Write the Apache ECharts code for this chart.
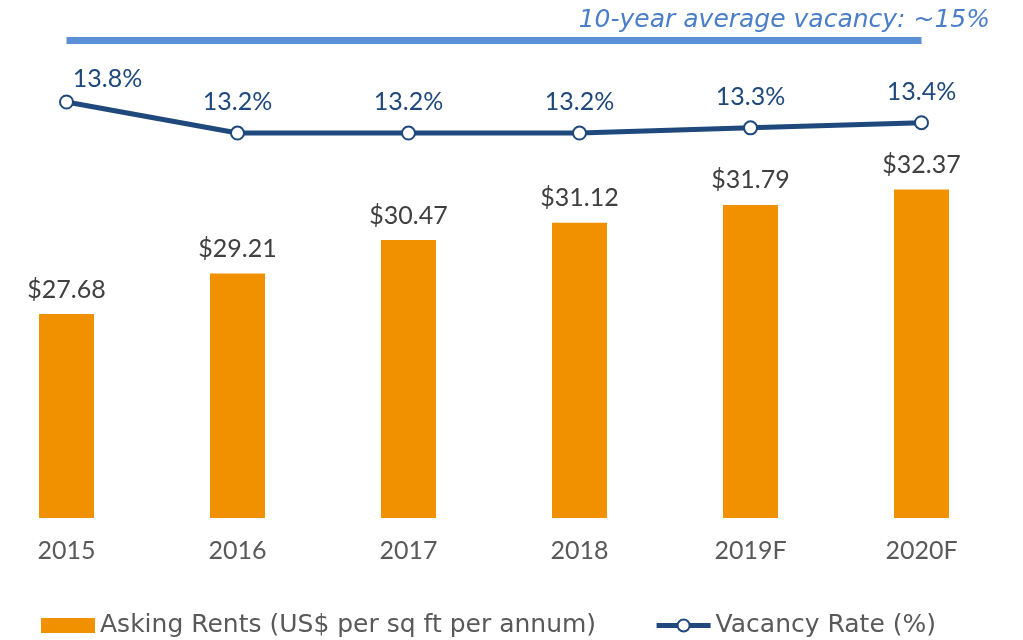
<!DOCTYPE html>
<html>
<head>
<meta charset="utf-8">
<script src="https://cdn.jsdelivr.net/npm/echarts@6/dist/echarts.min.js"></script>
<style>
  html, body { margin: 0; padding: 0; background: #fff; }
  #chart { width: 1023px; height: 640px; }
</style>
</head>
<body>
<div id="chart"></div>
<script>
const years = ['2015', '2016', '2017', '2018', '2019F', '2020F']
const askingRents = [27.68, 29.21, 30.47, 31.12, 31.79, 32.37]
const vacancyRate = [13.8, 13.2, 13.2, 13.2, 13.3, 13.4]
const avgVacancy = 15

const font = 'Lato'
const wideFont = 'DejaVu Sans'
const chart = echarts.init(document.getElementById('chart'))

const option = {
  color: ['#F29100', '#1F497D'],
  animation: false,
  textStyle: { fontFamily: font },
  title: {
    text: '10-year average vacancy: ~15%',
    right: 28,
    top: 3,
    textStyle: {
      fontFamily: wideFont,
      fontSize: 25,
      fontStyle: 'italic',
      fontWeight: 'normal',
      color: '#4A7EC8'
    }
  },
  grid: {
    top: 40,
    left: -19,
    right: 16,
    bottom: 122,
    outerBoundsMode: 'none'
  },
  legend: {
    left: 36,
    top: 608,
    itemWidth: 54,
    itemHeight: 15,
    itemGap: 58,
    textStyle: { fontFamily: wideFont, fontSize: 25, color: '#595959' },
    data: [
      { name: 'Asking Rents (US$ per sq ft per annum)', icon: 'rect' },
      { name: 'Vacancy Rate (%)', lineStyle: { width: 5 }, itemStyle: { borderWidth: 2 } }
    ]
  },
  xAxis: {
    type: 'category',
    data: years,
    axisLine: { show: false },
    axisTick: { show: false },
    axisLabel: { color: '#595959', fontSize: 25, margin: 20, fontFamily: font }
  },
  yAxis: [
    { type: 'value', min: 20, max: 38, show: false, splitLine: { show: false } },
    { type: 'value', min: 5.75, max: 15, show: false, splitLine: { show: false } }
  ],
  series: [
    {
      name: 'Asking Rents (US$ per sq ft per annum)',
      type: 'bar',
      barWidth: 55,
      data: askingRents,
      label: {
        show: true,
        position: 'top',
        distance: 12,
        formatter: p => '$' + p.value.toFixed(2),
        color: '#404040',
        fontSize: 25,
        fontFamily: font
      }
    },
    {
      name: 'Vacancy Rate (%)',
      type: 'line',
      yAxisIndex: 1,
      data: vacancyRate.map((v, i) => i === 0
        ? { value: v, label: { offset: [41, 8] } }
        : v),
      symbol: 'circle',
      symbolSize: 13,
      lineStyle: { width: 5, color: '#1F497D' },
      itemStyle: { color: '#fff', borderColor: '#1F497D', borderWidth: 2 },
      label: {
        show: true,
        position: 'top',
        distance: 11,
        formatter: p => p.value.toFixed(1) + '%',
        color: '#1F497D',
        fontSize: 25,
        fontFamily: font
      },
      markLine: {
        silent: true,
        symbol: 'none',
        label: { show: false },
        lineStyle: { type: 'solid', width: 7, color: '#5B8FD6' },
        data: [[{ coord: [0, avgVacancy] }, { coord: [5, avgVacancy] }]]
      }
    }
  ]
}

chart.setOption(option)
</script>
</body>
</html>
